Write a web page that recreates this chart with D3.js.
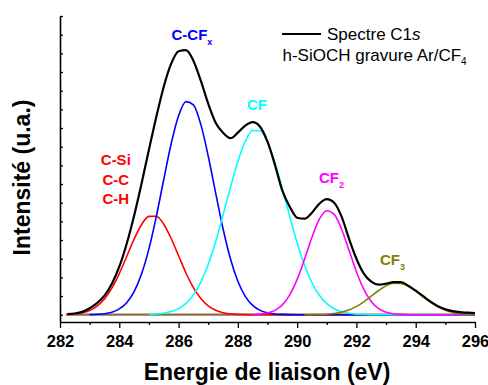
<!DOCTYPE html>
<html><head><meta charset="utf-8">
<script src="https://cdn.jsdelivr.net/npm/d3@7"></script>
<style>body{margin:0;background:#fff} svg{display:block;font-family:"Liberation Sans",Arial,sans-serif}</style>
</head><body><svg id="c" width="488" height="385"></svg>
<script>
// Binding energy grid (eV)
const energy = [282.25,282.5,282.75,283,283.25,283.5,283.75,284,284.25,284.5,284.75,285,285.25,285.5,285.75,286,286.25,286.5,286.75,287,287.25,287.5,287.75,288,288.25,288.5,288.75,289,289.25,289.5,289.75,290,290.25,290.5,290.75,291,291.25,291.5,291.75,292,292.25,292.5,292.75,293,293.25,293.5,293.75,294,294.25,294.5,294.75,295,295.25,295.5,295.75,296];
// Measured C1s spectrum (a.u.)
const spectrum = [0.5,1.2,2.8,6.5,11.5,19,31,48,71,99,131,165,198,228,251,263.5,264.5,254,234,211,192,182,176.5,182,189,192.5,188,173,150,124,108,97,96,102,111,115.5,112,98,76,56,41,33,30,31,32.5,32.5,29,24,18.5,13,8.5,5.5,3.5,2.5,2,1.5];
// Fitted components (a.u.), null = not drawn
const compCSi = [0.3,0.8,2.0,4.3,8.6,15.8,26.6,41.1,58.2,75.6,90.0,98.3,98.5,90.5,76.2,58.9,41.7,27.1,16.1,8.8,4.4,2.0,0.9,0.3,0.1,0,0,0,0,0,0,0,0,0,0,0,0,0,0,0,0,0,0,0,0,0,0,0,0,0,0,0,0,0,0,0];
const compCCFx = [null,null,null,0.1,0.4,1.0,2.5,5.8,12.0,23.0,40.6,65.8,98.4,135.2,171.0,199.0,213.1,209.9,190.3,158.7,121.8,86.0,55.9,33.4,18.4,9.3,4.3,1.9,0.7,0.3,0.1,0,0,0,0,0,0,0,0,0,0,0,0,0,0,0,0,0,0,0,0,0,0,0,0,0];
const compCF = [null,null,null,null,null,null,null,null,null,null,null,0.3,0.7,1.5,3.1,6.1,11.3,19.8,32.5,50.2,72.9,99.4,127.3,153.2,173.3,184.2,183.9,172.6,152.2,126.2,98.2,71.9,49.4,31.9,19.4,11.1,5.9,3.0,1.4,0.6,0.3,0,0,0,0,0,0,0,0,0,0,0,0,0,0,0];
const compCF2 = [null,null,null,null,null,null,null,null,null,null,null,null,null,null,null,null,null,null,null,null,null,null,null,null,null,0.2,0.6,1.7,4.3,9.8,19.8,35.3,55.6,77.5,95.5,104.0,100.3,85.5,64.4,43.0,25.3,13.2,6.1,2.5,0.9,0.3,0,0,0,0,0,0,0,0,0,0];
const compCF3 = [null,null,null,null,null,null,null,null,null,null,null,null,null,null,null,null,null,null,null,null,null,null,null,null,null,null,null,null,null,null,null,null,0.0,0.1,0.2,0.5,1.2,2.6,4.8,8.3,12.9,18.5,24.2,28.9,31.5,31.3,28.5,23.6,17.8,12.3,7.8,4.5,2.3,1.1,0.5,0.2];
const baselineEnergy = [282.2, 296];
const baselineValue = [0, 0];
const xTickValues = [282,284,286,288,290,292,294,296];
const xMinorTickValues = [283,285,287,289,291,293,295];

const svg = d3.select('#c');
const x = d3.scaleLinear().domain([282,296]).range([60,475]);
const y = d3.scaleLinear().domain([-7.3,298.7]).range([322,16]);
const yTickValues = d3.range(0, 299, 18.67);

const line = d3.line().defined(d => d[1] !== null).x(d => x(d[0])).y(d => y(d[1])).curve(d3.curveMonotoneX);
const pairs = vals => energy.map((e,i) => [e, vals[i]]);

// baseline
svg.append('path').datum(baselineEnergy.map((e,i)=>[e,baselineValue[i]]))
  .attr('d', line).attr('fill','none').attr('stroke','#8c6d46').attr('stroke-width',2.2);

const comps = [
  {v: compCSi, c: '#ff0000'},
  {v: compCCFx, c: '#0000ff'},
  {v: compCF, c: '#00ffff'},
  {v: compCF2, c: '#ff00ff'},
  {v: compCF3, c: '#808000'}
];
comps.forEach(cp => {
  svg.append('path').datum(pairs(cp.v)).attr('d', line)
    .attr('fill','none').attr('stroke', cp.c).attr('stroke-width',1.6);
});
svg.append('path').datum(pairs(spectrum)).attr('d', line)
  .attr('fill','none').attr('stroke','#000').attr('stroke-width',2.2).attr('stroke-linejoin','round');

// axes
const xAxis = svg.append('g').attr('transform','translate(0,322)')
  .call(d3.axisBottom(x).tickValues(xTickValues).tickSize(6).tickSizeOuter(0).tickFormat(d3.format('d')));
xAxis.selectAll('text').attr('y',25).attr('dy',0).attr('font-size','16.5px').attr('font-weight','bold')
  .attr('font-family','"Liberation Sans",Arial,sans-serif').attr('fill','#000');
const xMinor = svg.append('g').attr('transform','translate(0,322)')
  .call(d3.axisBottom(x).tickValues(xMinorTickValues).tickSize(3).tickSizeOuter(0).tickFormat(''));
xMinor.select('.domain').remove();
const yAxis = svg.append('g').attr('transform','translate(60,0)')
  .call(d3.axisLeft(y).tickValues(yTickValues).tickSize(-3).tickSizeOuter(0).tickFormat(''));
svg.selectAll('.domain').attr('stroke','#000').attr('stroke-width',1.6);
svg.selectAll('.tick line').attr('stroke','#000').attr('stroke-width',1.3);

// axis titles
svg.append('text').attr('x',267).attr('y',379.5).attr('text-anchor','middle')
  .attr('font-size','23px').attr('font-weight','bold').text('Energie de liaison (eV)');
svg.append('text').attr('transform','translate(30,177.5) rotate(-90)').attr('text-anchor','middle')
  .attr('font-size','23px').attr('font-weight','bold').text('Intensité (u.a.)');

// legend
svg.append('line').attr('x1',282).attr('x2',321).attr('y1',34).attr('y2',34).attr('stroke','#000').attr('stroke-width',2);
const l1 = svg.append('text').attr('x',327).attr('y',40).attr('font-size','17px');
l1.append('tspan').text('Spectre C1');
l1.append('tspan').attr('font-style','italic').text('s');
const l2 = svg.append('text').attr('x',282.5).attr('y',61).attr('font-size','17px');
l2.append('tspan').text('h-SiOCH gravure Ar/CF');
l2.append('tspan').attr('font-size','10px').attr('dy',4).text('4');

// peak labels
function label(xp, yp, color, main, sub, size) {
  const t = svg.append('text').attr('x',xp).attr('y',yp).attr('fill',color)
    .attr('font-size',(size||15)+'px').attr('font-weight','bold');
  t.append('tspan').text(main);
  if (sub) t.append('tspan').attr('font-size','9px').attr('dy',5).text(sub);
}
label(171.5, 39.5, '#0000ff', 'C-CF', 'x');
label(247, 110, '#00ffff', 'CF');
label(319, 182.7, '#ff00ff', 'CF', '2');
label(380, 265, '#808000', 'CF', '3');
['C-Si','C-C','C-H'].forEach((s,i) => {
  svg.append('text').attr('x',115.8).attr('y',165 + i*19.7).attr('text-anchor','middle')
    .attr('fill','#ff0000').attr('font-size','15px').attr('font-weight','bold').text(s);
});
</script></body></html>
